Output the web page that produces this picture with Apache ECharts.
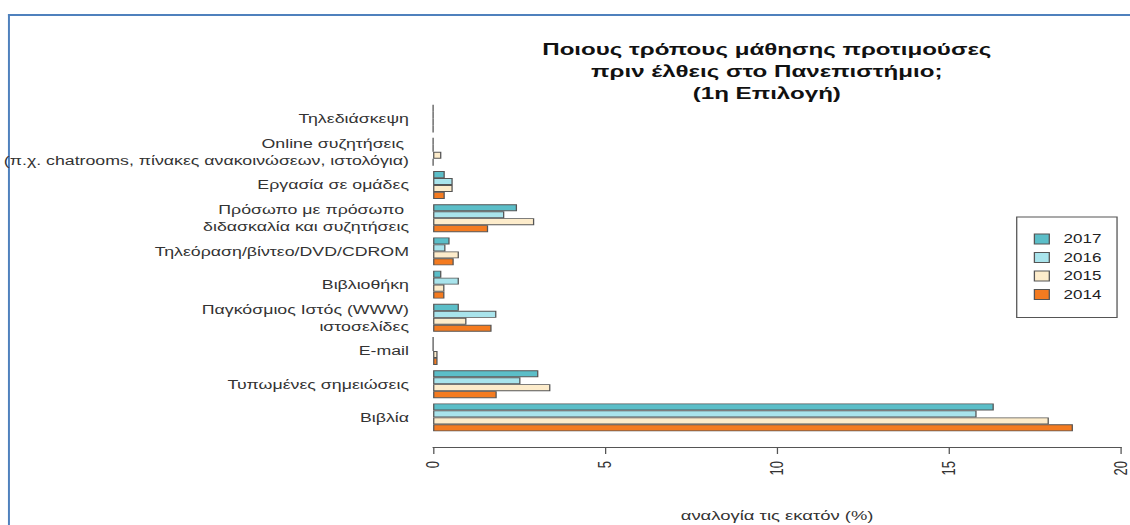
<!DOCTYPE html>
<html>
<head>
<meta charset="utf-8">
<script src="https://cdn.jsdelivr.net/npm/echarts@6/dist/echarts.min.js"></script>
<style>
  html, body { margin: 0; padding: 0; background: #fff; overflow: hidden; }
  /* η αρχική εικόνα είναι τεντωμένη οριζόντια, οπότε τεντώνουμε κι εμείς */
  #chart { width: 796px; height: 525px; transform: scaleX(1.42); transform-origin: 0 0; }
</style>
</head>
<body>
<div id="chart"></div>
<script>
// κατηγορίες από κάτω προς τα πάνω
const categories = [
  'Βιβλία',
  'Τυπωμένες σημειώσεις',
  'E-mail',
  'Παγκόσμιος Ιστός (WWW)\nιστοσελίδες',
  'Βιβλιοθήκη',
  'Τηλεόραση/βίντεο/DVD/CDROM',
  'Πρόσωπο με πρόσωπο \nδιδασκαλία και συζητήσεις',
  'Εργασία σε ομάδες',
  'Online συζητήσεις \n(π.χ. chatrooms, πίνακες ανακοινώσεων, ιστολόγια)',
  'Τηλεδιάσκεψη'
]
const years = ['2017', '2016', '2015', '2014']
const v2017 = [16.3, 3.06, 0, 0.75, 0.24, 0.48, 2.44, 0.34, 0, 0]
const v2016 = [15.8, 2.54, 0, 1.84, 0.75, 0.36, 2.07, 0.57, 0, 0]
const v2015 = [17.9, 3.41, 0.13, 0.97, 0.33, 0.75, 2.94, 0.57, 0.24, 0]
const v2014 = [18.6, 1.85, 0.13, 1.7, 0.33, 0.6, 1.6, 0.34, 0, 0]
const xTicks = [0, 5, 10, 15, 20]

const colors = ['#5bbec8', '#a9e4ec', '#fdeccb', '#f47b20']
const font = '"Liberation Sans", Arial, sans-serif'

const chart = echarts.init(document.getElementById('chart'), null, { renderer: 'svg' })

const mkSeries = (name, data, i) => ({
  name,
  type: 'bar',
  data,
  barGap: 0,
  barCategoryGap: '16%',
  itemStyle: {
    color: colors[i],
    borderColor: '#555',
    borderWidth: 0.9
  }
})

chart.setOption({
  animation: false,
  textStyle: { fontFamily: font },
  title: {
    text: 'Ποιους τρόπους μάθησης προτιμούσες\nπριν έλθεις στο Πανεπιστήμιο;\n(1η Επιλογή)',
    left: 535,
    top: 33,
    textAlign: 'center',
    textStyle: {
      fontFamily: font,
      fontSize: 17,
      fontWeight: 'bold',
      color: '#111',
      lineHeight: 22
    }
  },
  legend: {
    orient: 'vertical',
    left: 716,
    top: 217,
    data: years,
    icon: 'rect',
    itemWidth: 10.5,
    itemHeight: 10,
    itemGap: 6.5,
    padding: [16, 11, 17, 12],
    borderColor: '#555',
    borderWidth: 0.9,
    itemStyle: { borderColor: '#555', borderWidth: 0.9 },
    textStyle: { fontFamily: font, fontSize: 12, color: '#222', padding: [0, 0, 0, 5] }
  },
  grid: {
    left: 305,
    right: 6.5,
    top: 102,
    bottom: 91,
    containLabel: false,
    outerBoundsMode: 'none'
  },
  xAxis: {
    type: 'value',
    min: xTicks[0],
    max: xTicks[xTicks.length - 1],
    interval: 5,
    offset: 13,
    name: 'αναλογία τις εκατόν (%)',
    nameLocation: 'middle',
    nameGap: 62,
    nameTextStyle: { fontFamily: font, fontSize: 13, color: '#333' },
    axisLine: { show: true, lineStyle: { color: '#555', width: 1 } },
    axisTick: { show: true, length: 7, lineStyle: { color: '#555', width: 0.9 } },
    axisLabel: {
      rotate: 90,
      margin: 14,
      fontSize: 13,
      color: '#333',
      fontFamily: font
    },
    splitLine: { show: false }
  },
  yAxis: {
    type: 'category',
    data: categories,
    axisLine: { show: false },
    axisTick: { show: false },
    axisLabel: {
      margin: 17,
      fontSize: 12.5,
      color: '#333',
      fontFamily: font,
      lineHeight: 17
    }
  },
  graphic: [
    {
      type: 'line',
      shape: { x1: 6.3, y1: 14, x2: 6.3, y2: 525 },
      style: { stroke: '#4f81bd', lineWidth: 1.4 }
    },
    {
      type: 'line',
      shape: { x1: 5.6, y1: 15, x2: 796, y2: 15 },
      style: { stroke: '#4f81bd', lineWidth: 2 }
    }
  ],
  series: [
    mkSeries(years[0], v2017, 0),
    mkSeries(years[1], v2016, 1),
    mkSeries(years[2], v2015, 2),
    mkSeries(years[3], v2014, 3)
  ]
})
</script>
</body>
</html>
